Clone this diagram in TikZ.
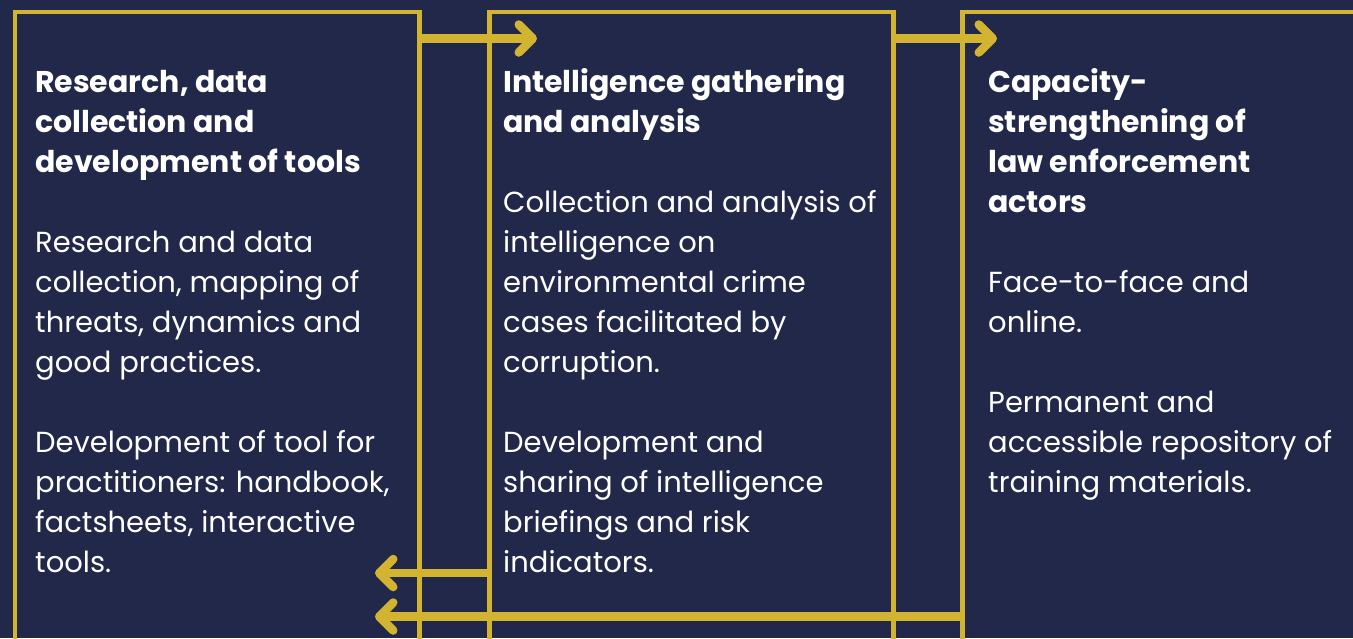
\documentclass[tikz,border=0pt]{standalone}
\usepackage{fontspec}
\setmainfont{Poppins}
\usetikzlibrary{arrows.meta, positioning}
\definecolor{NavyBg}{HTML}{222849}
\definecolor{Gold}{HTML}{D3B431}
\tikzset{
	panel/.style={ % yellow frame of each stage
			draw=Gold,
			line width=4.5pt,
			anchor=north west,
			minimum height=700pt,
			inner sep=0pt
		},
	head/.style={ % placed at the baseline of the last line
			text=white,
			anchor=base west,
			align=left,
			inner sep=0pt,
			font=\bfseries\fontsize{30}{40}\selectfont
		},
	body/.style={head, font=\fontsize{29}{40}\selectfont},
	flow/.style={ % thick arrows between stages
			draw=Gold,
			line width=8.5pt,
			-{Straight Barb[round, length=14pt, width=28pt]}
		}
}

\begin{document}
\begin{tikzpicture}[x=1pt, y=-1pt]
			\clip (0,0) rectangle (1353,638);
			\fill[NavyBg] (0,0) rectangle (1353,638);

			% Panels
			\node[panel, minimum width=404.5pt] (box1) at (12.5,9.5) {};
			\node[panel, minimum width=404pt] (box2) at (487,9.5) {};
			\node[panel, minimum width=500pt] (box3) at (960,9.5) {};

			% Texts
			\node[head] (h1) at (35,172) {Research, data\\collection and\\development of tools};
			\node[body] (b1a) at (35,372) {Research and data\\collection, mapping of\\threats, dynamics and\\good practices.};
			\node[body] (b1b) at (35,572) {Development of tool for\\practitioners: handbook,\\factsheets, interactive\\tools.};

			\node[head] (h2) at (503,132) {Intelligence gathering\\and analysis};
			\node[body] (b2a) at (503,372) {Collection and analysis of\\intelligence on\\environmental crime\\cases facilitated by\\corruption.};
			\node[body] (b2b) at (503,572) {Development and\\sharing of intelligence\\briefings and risk\\indicators.};

			\node[head] (h3) at (988,212) {Capacity-\\strengthening of\\law enforcement\\actors};
			\node[body] (b3a) at (988,332) {Face-to-face and\\online.};
			\node[body] (b3b) at (988,492) {Permanent and\\accessible repository of\\training materials.};

			% Arrows
			\coordinate (t1) at (537,38.5);
			\coordinate (t2) at (997,38.5);
			\coordinate (t3) at (375,573);
			\coordinate (t4) at (375,616.5);
			\draw[flow] (t1 -| box1.east) -- (t1);
			\draw[flow] ([xshift=-4pt]t2 -| box2.east) -- (t2);
			\draw[flow] (t3 -| box2.west) -- (t3);
			\draw[flow] (t4 -| box3.west) -- (t4);

		\end{tikzpicture}
\end{document}
